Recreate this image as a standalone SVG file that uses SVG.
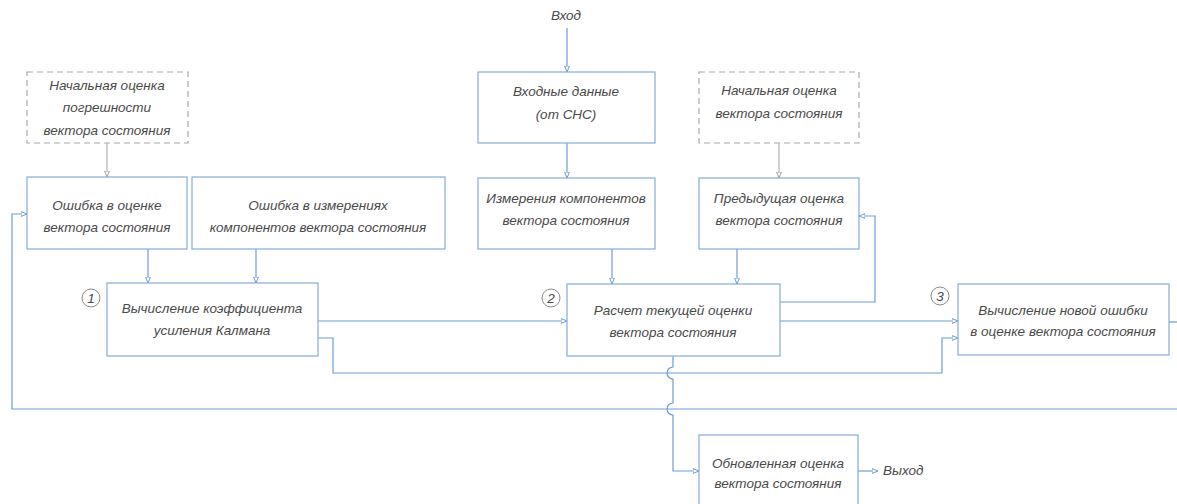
<svg xmlns="http://www.w3.org/2000/svg" width="1177" height="504" viewBox="0 0 1177 504">
<style>
  .box{fill:#ffffff;stroke:#86acd9;stroke-width:1.2}
  .dbox{fill:#ffffff;stroke:#a9a9a9;stroke-width:1.2;stroke-dasharray:6 4}
  .t{font-family:"Liberation Sans","DejaVu Sans",sans-serif;font-style:italic;font-size:13.5px;fill:#4a4a4a;text-anchor:middle}
  .c{fill:#ffffff;stroke:#8a8a8a;stroke-width:1}
  .ln{fill:none;stroke:#6d9dd6;stroke-width:1.2}
  .lg{fill:none;stroke:#a0a0a0;stroke-width:1}
</style>
<defs>
  <marker id="ar" markerUnits="userSpaceOnUse" markerWidth="8" markerHeight="8" refX="6" refY="3" orient="auto">
    <path d="M0,0.6 L6,3 L0,5.4 Z" fill="#ffffff" stroke="#6d9dd6" stroke-width="1"/>
  </marker>
  <marker id="ag" markerUnits="userSpaceOnUse" markerWidth="8" markerHeight="8" refX="6" refY="3" orient="auto">
    <path d="M0,0.6 L6,3 L0,5.4 Z" fill="#ffffff" stroke="#a0a0a0" stroke-width="1"/>
  </marker>
</defs>
<rect width="1177" height="504" fill="#ffffff"/>
<g id="connectors">
  <path class="lg" d="M107 143 V177" marker-end="url(#ag)"/>
  <path class="lg" d="M779 143 V178" marker-end="url(#ag)"/>
  <path class="ln" d="M567 28 V72" marker-end="url(#ar)"/>
  <path class="ln" d="M567 143 V178" marker-end="url(#ar)"/>
  <path class="ln" d="M148 249 V283" marker-end="url(#ar)"/>
  <path class="ln" d="M256 249 V283" marker-end="url(#ar)"/>
  <path class="ln" d="M612 249 V284" marker-end="url(#ar)"/>
  <path class="ln" d="M737 249 V284" marker-end="url(#ar)"/>
  <path class="ln" d="M318 321 H567" marker-end="url(#ar)"/>
  <path class="ln" d="M780 321 H958" marker-end="url(#ar)"/>
  <path class="ln" d="M318 338 H333 V373 H942 V338 H958" marker-end="url(#ar)"/>
  <path class="ln" d="M780 302 H875 V216 H859" marker-end="url(#ar)"/>
  <path class="ln" d="M1169 322 H1177"/>
  <path class="ln" d="M1177 409 H12 V214 H27" marker-end="url(#ar)"/>
  <path class="ln" d="M673 356 V367 A6 6 0 0 0 673 379 V403 A6 6 0 0 0 673 415 V471 H699" marker-end="url(#ar)"/>
  <path class="ln" d="M858 471 H878" marker-end="url(#ar)"/>
</g>
<g id="input-label"><text class="t" x="566" y="20">Вход</text></g>
<g id="init-error">
  <rect class="dbox" x="27" y="72" width="161" height="71"/>
  <text class="t" x="107" y="90">Начальная оценка</text>
  <text class="t" x="107" y="112">погрешности</text>
  <text class="t" x="107" y="135">вектора состояния</text>
</g>
<g id="est-error">
  <rect class="box" x="27" y="177" width="160" height="72"/>
  <text class="t" x="107" y="210">Ошибка в оценке</text>
  <text class="t" x="107" y="232">вектора состояния</text>
</g>
<g id="meas-error">
  <rect class="box" x="192" y="177" width="253" height="72"/>
  <text class="t" x="318" y="210">Ошибка в измерениях</text>
  <text class="t" x="318" y="232">компонентов вектора состояния</text>
</g>
<g id="input-data">
  <rect class="box" x="478" y="72" width="177" height="71"/>
  <text class="t" x="566" y="96">Входные данные</text>
  <text class="t" x="566" y="119">(от СНС)</text>
</g>
<g id="measurements">
  <rect class="box" x="478" y="178" width="177" height="71"/>
  <text class="t" x="566" y="203">Измерения компонентов</text>
  <text class="t" x="566" y="225">вектора состояния</text>
</g>
<g id="init-state">
  <rect class="dbox" x="699" y="72" width="160" height="71"/>
  <text class="t" x="779" y="95">Начальная оценка</text>
  <text class="t" x="779" y="118">вектора состояния</text>
</g>
<g id="prev-state">
  <rect class="box" x="699" y="178" width="160" height="71"/>
  <text class="t" x="779" y="203">Предыдущая оценка</text>
  <text class="t" x="779" y="225">вектора состояния</text>
</g>
<g id="step1">
  <rect class="box" x="107" y="283" width="211" height="73"/>
  <text class="t" x="212" y="313">Вычисление коэффициента</text>
  <text class="t" x="212" y="335">усиления Калмана</text>
  <circle class="c" cx="91" cy="298" r="9"/>
  <text class="t" x="91" y="303">1</text>
</g>
<g id="step2">
  <rect class="box" x="567" y="284" width="213" height="72"/>
  <text class="t" x="673" y="315">Расчет текущей оценки</text>
  <text class="t" x="673" y="337">вектора состояния</text>
  <circle class="c" cx="551" cy="298" r="9"/>
  <text class="t" x="551" y="303">2</text>
</g>
<g id="step3">
  <rect class="box" x="958" y="284" width="211" height="71"/>
  <text class="t" x="1063" y="315">Вычисление новой ошибки</text>
  <text class="t" x="1063" y="336">в оценке вектора состояния</text>
  <circle class="c" cx="940" cy="296" r="9"/>
  <text class="t" x="940" y="301">3</text>
</g>
<g id="updated">
  <rect class="box" x="699" y="435" width="159" height="75"/>
  <text class="t" x="778" y="468">Обновленная оценка</text>
  <text class="t" x="778" y="488">вектора состояния</text>
</g>
<g id="output-label"><text class="t" x="883" y="475" style="text-anchor:start">Выход</text></g>
</svg>
